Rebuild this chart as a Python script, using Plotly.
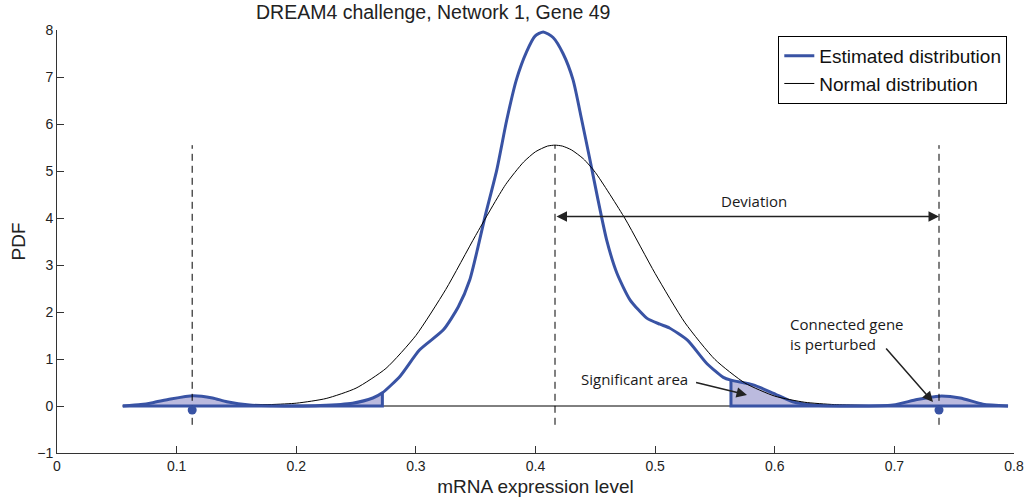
import plotly.graph_objects as go

# ---- data ----
est_x = [0.055, 0.07, 0.08, 0.095, 0.114, 0.13, 0.142, 0.161, 0.18, 0.2, 0.22, 0.247,
         0.264, 0.272, 0.287, 0.303, 0.323, 0.3355, 0.345, 0.352, 0.358, 0.3676, 0.376,
         0.384, 0.3926, 0.3996, 0.4065, 0.4147, 0.423, 0.4314, 0.4386, 0.4456, 0.4523,
         0.4595, 0.468, 0.479, 0.493, 0.504, 0.512, 0.527, 0.543, 0.557, 0.5634, 0.582,
         0.599, 0.615, 0.632, 0.66, 0.699, 0.719, 0.738, 0.755, 0.774, 0.795]
est_y = [0.0, 0.03, 0.07, 0.15, 0.22, 0.17, 0.09, 0.02, 0.005, 0.0, 0.01, 0.06,
         0.17, 0.28, 0.64, 1.19, 1.62, 2.11, 2.68, 3.39, 4.05, 5.02, 6.09,
         6.94, 7.54, 7.87, 7.96, 7.84, 7.5, 6.94, 6.09, 5.23, 4.38,
         3.53, 2.83, 2.26, 1.87, 1.74, 1.66, 1.40, 0.91, 0.61, 0.55, 0.45,
         0.27, 0.09, 0.02, 0.0, 0.02, 0.14, 0.21, 0.17, 0.04, 0.0]

norm_x = [0.055, 0.10, 0.15, 0.20, 0.225, 0.25, 0.275, 0.30, 0.325, 0.35, 0.375, 0.39,
          0.40, 0.41, 0.4163, 0.4225, 0.43, 0.44, 0.45, 0.475, 0.50, 0.525, 0.55, 0.575,
          0.60, 0.625, 0.65, 0.70, 0.75, 0.795]
norm_y = [0.0, 0.0003, 0.006, 0.06, 0.16, 0.38, 0.80, 1.50, 2.48, 3.63, 4.71, 5.19,
          5.41, 5.53, 5.55, 5.53, 5.45, 5.26, 4.97, 3.98, 2.82, 1.77, 0.99, 0.49,
          0.21, 0.08, 0.03, 0.002, 0.0, 0.0]

mean_x = 0.4163
peak_top = 5.55
outlier_x = [0.113, 0.7373]
outlier_y = [-0.085, -0.085]
left_cut = 0.272
right_cut = 0.5634
dash_bottom = -0.4
deviation_y = 4.03

x_ticks = [0, 0.1, 0.2, 0.3, 0.4, 0.5, 0.6, 0.7, 0.8]
x_tick_labels = ["0", "0.1", "0.2", "0.3", "0.4", "0.5", "0.6", "0.7", "0.8"]
y_ticks = [-1, 0, 1, 2, 3, 4, 5, 6, 7, 8]

BLUE = "#3953a4"
FILL = "#bbbade"
AX = "#333333"

fig = go.Figure()

# shaded significant areas
lx = [x for x in est_x if x <= left_cut]
ly = [y for x, y in zip(est_x, est_y) if x <= left_cut]
rx = [x for x in est_x if x >= right_cut]
ry = [y for x, y in zip(est_x, est_y) if x >= right_cut]
for sx, sy in ((lx, ly), (rx, ry)):
    fig.add_trace(go.Scatter(x=sx, y=sy, mode="lines", fill="tozeroy", fillcolor=FILL,
                             line=dict(color=BLUE, width=0, shape="spline", smoothing=0.6),
                             showlegend=False, hoverinfo="skip"))

# main estimated distribution
fig.add_trace(go.Scatter(x=est_x, y=est_y, mode="lines", name="Estimated distribution",
                         line=dict(color=BLUE, width=3, shape="spline", smoothing=0.6)))
# normal distribution
fig.add_trace(go.Scatter(x=norm_x, y=norm_y, mode="lines", name="Normal distribution",
                         line=dict(color="black", width=1, shape="spline", smoothing=0.6)))

# black baseline
fig.add_trace(go.Scatter(x=[est_x[0], est_x[-1]], y=[0, 0], mode="lines",
                         line=dict(color="black", width=1), showlegend=False, hoverinfo="skip"))

# blue outline of shaded areas (base + cut edges)
fig.add_trace(go.Scatter(x=[lx[0], lx[-1], lx[-1]], y=[0, 0, ly[-1]], mode="lines",
                         line=dict(color=BLUE, width=3), showlegend=False, hoverinfo="skip"))
fig.add_trace(go.Scatter(x=[rx[-1], rx[0], rx[0]], y=[0, 0, ry[0]], mode="lines",
                         line=dict(color=BLUE, width=3), showlegend=False, hoverinfo="skip"))

# dashed vertical lines
for vx in [outlier_x[0], mean_x, outlier_x[1]]:
    fig.add_trace(go.Scatter(x=[vx, vx], y=[dash_bottom, peak_top], mode="lines",
                             line=dict(color="black", width=1, dash="7px,5px"),
                             showlegend=False, hoverinfo="skip"))

# outlier dots
fig.add_trace(go.Scatter(x=outlier_x, y=outlier_y, mode="markers",
                         marker=dict(color=BLUE, size=9), showlegend=False, hoverinfo="skip"))

ann_font = dict(family="Open Sans", size=15, color="#1a1a1a")
annotations = [
    # title
    dict(text="DREAM4 challenge, Network 1, Gene 49", xref="paper", yref="paper",
         x=0.393, y=1.0426, xanchor="center", yanchor="middle", showarrow=False,
         font=dict(family="Liberation Sans", size=19.5, color="#222222")),
    # deviation arrow
    dict(x=outlier_x[1], y=deviation_y, ax=mean_x, ay=deviation_y, xref="x", yref="y",
         axref="x", ayref="y", text="", showarrow=True, arrowhead=2, arrowside="end+start",
         arrowsize=1.4, arrowwidth=1.5, arrowcolor="#222222", standoff=0, startstandoff=0),
    dict(x=0.583, y=4.37, xref="x", yref="y", text="Deviation", showarrow=False,
         font=ann_font),
    # significant area
    dict(x=0.4828, y=0.574, xref="x", yref="y", text="Significant area", showarrow=False,
         font=ann_font),
    dict(x=0.5768, y=0.234, ax=0.533, ay=0.51, xref="x", yref="y", axref="x", ayref="y",
         text="", showarrow=True, arrowhead=2, arrowsize=1.4, arrowwidth=1.5,
         arrowcolor="#222222", standoff=0),
    # connected gene
    dict(x=0.611, y=1.54, xref="x", yref="y", text="Connected gene<br>is perturbed",
         showarrow=False, xanchor="left", yanchor="middle", align="left", font=ann_font),
    dict(x=0.7323, y=0.085, ax=0.692, ay=1.255, xref="x", yref="y", axref="x", ayref="y",
         text="", showarrow=True, arrowhead=2, arrowsize=1.4, arrowwidth=1.5,
         arrowcolor="#222222", standoff=0),
]

fig.update_layout(
    width=1029, height=504,
    margin=dict(l=57, r=15, t=30, b=51, autoexpand=False),
    paper_bgcolor="white", plot_bgcolor="white",
    font=dict(family="Liberation Sans", color="#222222"),
    showlegend=True,
    legend=dict(x=0.993, y=0.986, xanchor="right", yanchor="top",
                bgcolor="white", bordercolor="black", borderwidth=1,
                font=dict(family="Liberation Sans", size=19, color="#111111"),
                traceorder="normal", tracegroupgap=0),
    annotations=annotations,
)
fig.update_xaxes(range=[0, 0.8], tickvals=x_ticks, ticktext=x_tick_labels, automargin=False,
                 showgrid=False, zeroline=False, showline=True, linecolor=AX, linewidth=1,
                 ticks="inside", ticklen=7, tickcolor=AX, tickfont=dict(size=14),
                 title=dict(text="mRNA expression level", font=dict(size=19), standoff=6))
fig.update_yaxes(range=[-1, 8], tickvals=y_ticks, automargin=False,
                 showgrid=False, zeroline=False, showline=True, linecolor=AX, linewidth=1,
                 ticks="inside", ticklen=7, tickcolor=AX, tickfont=dict(size=14),
                 title=dict(text="PDF", font=dict(size=19), standoff=6))

fig.write_html("out.html")
